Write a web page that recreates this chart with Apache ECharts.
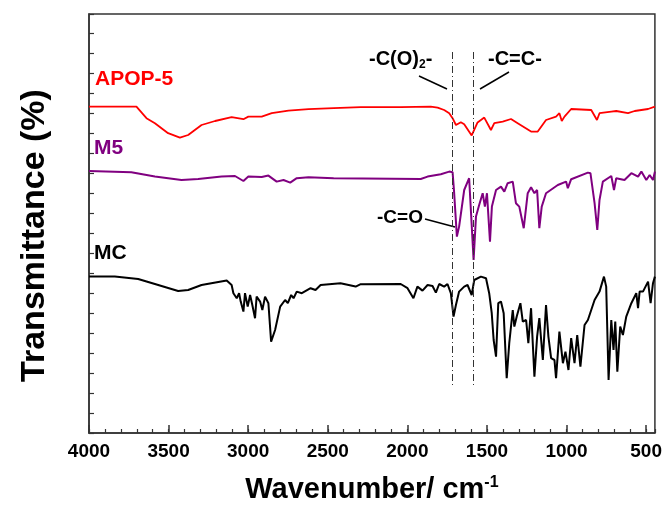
<!DOCTYPE html>
<html>
<head>
<meta charset="utf-8">
<title>FTIR</title>
<script src="https://cdn.jsdelivr.net/npm/echarts@6/dist/echarts.min.js"></script>
<style>
  html, body { margin: 0; padding: 0; background: #fff; }
  #main { width: 665px; height: 513px; }
</style>
</head>
<body>
<div id="main"></div>
<script>
// 红线 APOP-5
let apopWn = [4000, 3702, 3639, 3586, 3503, 3429, 3377, 3293, 3208, 3104, 3030, 2999, 2915, 2852, 2747, 2621, 2463, 2293, 2042, 1853, 1810, 1769, 1737, 1716, 1695, 1664, 1643, 1596, 1559, 1517, 1475, 1454, 1401, 1349, 1307, 1223, 1181, 1129, 1066, 1045, 1030, 1013, 971, 845, 809, 793, 719, 688, 614, 572, 488, 445];
let apopT = [16.32, 16.32, 15.74, 15.49, 14.99, 14.77, 14.9, 15.4, 15.6, 15.79, 15.69, 15.82, 15.82, 15.99, 16.12, 16.19, 16.24, 16.29, 16.29, 16.32, 16.27, 16.15, 15.99, 15.74, 15.4, 15.54, 15.44, 14.88, 15.53, 15.77, 15.15, 15.49, 15.57, 15.7, 15.49, 15.07, 15.07, 15.65, 15.82, 15.99, 15.6, 15.82, 16.2, 16.15, 15.65, 15.99, 16.07, 16.1, 15.99, 16.1, 16.2, 16.32];

// 紫线 M5
let m5Wn = [4000, 3734, 3586, 3419, 3314, 3167, 3083, 3030, 2999, 2915, 2873, 2821, 2778, 2736, 2695, 2621, 2463, 1916, 1873, 1790, 1737, 1716, 1706, 1689, 1675, 1643, 1612, 1601, 1584, 1569, 1549, 1527, 1513, 1500, 1481, 1469, 1443, 1412, 1391, 1370, 1338, 1318, 1297, 1269, 1244, 1223, 1202, 1185, 1171, 1156, 1129, 1055, 1003, 992, 971, 866, 850, 824, 807, 793, 772, 719, 702, 688, 636, 593, 551, 530, 499, 478, 457, 445];
let m5T = [13.1, 13.04, 12.82, 12.65, 12.7, 12.82, 12.85, 12.6, 12.82, 12.8, 12.87, 12.57, 12.65, 12.52, 12.74, 12.79, 12.74, 12.7, 12.82, 12.94, 13.07, 13.04, 11.99, 9.82, 10.32, 12.15, 12.74, 12.65, 8.65, 10.82, 11.4, 11.99, 11.32, 11.99, 9.57, 11.32, 12.15, 12.32, 12.07, 12.49, 12.57, 11.49, 11.32, 10.24, 11.99, 12.29, 11.99, 12.15, 10.24, 11.32, 11.99, 12.4, 12.57, 12.24, 12.69, 13.02, 12.99, 11.49, 10.15, 11.65, 12.57, 12.85, 12.15, 12.74, 12.65, 12.99, 12.82, 13.07, 12.65, 12.9, 12.65, 13.07];

// 黑线 MC
let mcWn = [4000, 3838, 3691, 3586, 3440, 3377, 3293, 3135, 3104, 3093, 3072, 3057, 3047, 3030, 3020, 3003, 2988, 2974, 2957, 2947, 2925, 2911, 2894, 2873, 2856, 2831, 2799, 2768, 2751, 2730, 2715, 2695, 2663, 2651, 2608, 2577, 2545, 2420, 2325, 2293, 2042, 1999, 1962, 1937, 1905, 1873, 1842, 1821, 1800, 1769, 1748, 1727, 1710, 1695, 1675, 1643, 1622, 1596, 1580, 1538, 1506, 1486, 1470, 1458, 1443, 1429, 1412, 1395, 1376, 1360, 1338, 1328, 1313, 1290, 1275, 1254, 1240, 1223, 1202, 1185, 1171, 1149, 1129, 1114, 1097, 1076, 1066, 1045, 1023, 1007, 988, 971, 950, 933, 913, 887, 866, 824, 793, 765, 751, 736, 719, 705, 694, 681, 663, 646, 625, 593, 562, 551, 541, 520, 488, 472, 457, 445];
let mcT = [7.82, 7.82, 7.7, 7.45, 7.1, 7.15, 7.4, 7.62, 7.4, 6.99, 6.74, 6.99, 6.57, 6.07, 6.99, 6.32, 6.9, 6.4, 5.74, 6.82, 6.57, 6.15, 6.82, 6.49, 4.57, 5.15, 6.32, 6.65, 6.49, 6.9, 6.74, 7.07, 6.99, 7.07, 7.24, 7.15, 7.4, 7.49, 7.32, 7.44, 7.45, 7.24, 6.74, 7.32, 7.12, 7.4, 7.35, 7.02, 7.45, 7.32, 7.45, 6.99, 5.82, 6.4, 7.07, 7.32, 7.4, 6.9, 7.65, 7.82, 7.74, 6.99, 5.99, 4.65, 3.82, 6.49, 6.57, 5.99, 2.74, 4.49, 6.15, 5.32, 5.82, 6.49, 5.57, 5.65, 4.49, 6.24, 2.82, 4.82, 5.74, 3.65, 6.4, 4.82, 3.74, 3.65, 2.74, 5.07, 3.49, 4.07, 3.15, 4.74, 3.49, 4.9, 3.32, 5.4, 5.65, 6.65, 7.07, 7.82, 7.32, 2.65, 5.65, 4.15, 5.57, 3.07, 5.32, 4.9, 5.82, 6.49, 6.99, 6.24, 7.07, 7.07, 7.57, 6.49, 7.49, 7.82];

// 点划线位置 -C(O)2- 和 -C=C-
let bandWn = [1718, 1588];
let bandTop = 19.05;
let bandBottom = 2.4;

let font = "'Liberation Sans', Arial, sans-serif";

// 横轴用负数,这样刻度从 4000 开始数
function toPairs(wn, t) {
  return wn.map((w, i) => [-w, t[i]]);
}

let myChart = echarts.init(document.getElementById("main"), null, { renderer: "canvas" });

let option = {
  animation: false,
  backgroundColor: "#fff",
  grid: {
    left: 89,
    right: 10,
    top: 14,
    bottom: 80,
    show: true,
    borderColor: "#333",
    borderWidth: 1.5
  },
  xAxis: [
    {
      type: "value",
      min: -4000,
      max: -445,
      interval: 500,
      name: "Wavenumber/ cm{sup|-1}",
      nameLocation: "middle",
      nameGap: 42,
      nameTextStyle: {
        fontFamily: font,
        fontWeight: "bold",
        fontSize: 29,
        color: "#000",
        rich: {
          sup: { fontFamily: font, fontWeight: "bold", fontSize: 16, verticalAlign: "top", padding: [0, 0, 14, 0] }
        }
      },
      axisLine: { show: true, lineStyle: { color: "#333", width: 1.5 } },
      axisTick: { show: true, inside: true, length: 8, lineStyle: { color: "#333", width: 1.5 } },
      axisLabel: {
        showMaxLabel: false,
        margin: 9,
        fontFamily: font,
        fontWeight: "bold",
        fontSize: 19,
        color: "#000",
        formatter: function(v) {
          return Math.abs(v);
        }
      },
      splitLine: { show: false }
    },
    {
      // 小刻度
      type: "value",
      position: "bottom",
      min: -4000,
      max: -445,
      interval: 100,
      axisLine: { show: false },
      axisTick: { show: true, inside: true, length: 4, lineStyle: { color: "#333", width: 1.2 } },
      axisLabel: { show: false },
      splitLine: { show: false }
    }
  ],
  yAxis: {
    type: "value",
    min: 0,
    max: 20.95,
    interval: 1,
    name: "Transmittance (%)",
    nameLocation: "middle",
    nameRotate: 90,
    nameGap: 37,
    nameTextStyle: {
      fontFamily: font,
      fontWeight: "bold",
      fontSize: 34,
      color: "#000",
      padding: [0, 24, 0, 0]
    },
    axisLine: { show: true, lineStyle: { color: "#333", width: 1.5 } },
    axisTick: { show: true, inside: true, length: 5, lineStyle: { color: "#333", width: 1.2 } },
    axisLabel: { show: false },
    splitLine: { show: false }
  },
  series: [
    {
      name: "APOP-5",
      type: "line",
      data: toPairs(apopWn, apopT),
      showSymbol: false,
      lineStyle: { color: "#ff0000", width: 1.8 }
    },
    {
      name: "M5",
      type: "line",
      data: toPairs(m5Wn, m5T),
      showSymbol: false,
      lineStyle: { color: "#800080", width: 2 }
    },
    {
      name: "MC",
      type: "line",
      data: toPairs(mcWn, mcT),
      showSymbol: false,
      lineStyle: { color: "#000", width: 2 },
      markLine: {
        symbol: "none",
        silent: true,
        label: { show: false },
        lineStyle: { color: "#333", width: 1, type: [7, 3, 1, 3] },
        data: bandWn.map(w => [{ coord: [-w, bandTop] }, { coord: [-w, bandBottom] }])
      }
    }
  ],
  graphic: [
    { type: "text", left: 95, top: 69, style: { text: "APOP-5", fill: "#ff0000", font: "bold 21px " + font } },
    { type: "text", left: 94, top: 138, style: { text: "M5", fill: "#800080", font: "bold 21px " + font } },
    { type: "text", left: 94, top: 243, style: { text: "MC", fill: "#000", font: "bold 21px " + font } },
    {
      type: "text",
      left: 369,
      top: 49,
      style: {
        text: "-C(O){sub|2}-",
        fill: "#000",
        font: "bold 20px " + font,
        rich: { sub: { font: "bold 12px " + font, padding: [12, 0, 0, 0] } }
      }
    },
    { type: "text", left: 488, top: 49, style: { text: "-C=C-", fill: "#000", font: "bold 20px " + font } },
    { type: "text", left: 377, top: 208, style: { text: "-C=O", fill: "#000", font: "bold 19px " + font } },
    { type: "line", shape: { x1: 419, y1: 76, x2: 447, y2: 89 }, style: { stroke: "#000", lineWidth: 1.5 } },
    { type: "line", shape: { x1: 509, y1: 72, x2: 480, y2: 89 }, style: { stroke: "#000", lineWidth: 1.5 } },
    { type: "line", shape: { x1: 425, y1: 219, x2: 455, y2: 227 }, style: { stroke: "#000", lineWidth: 1.5 } }
  ]
};
myChart.setOption(option);
</script>
</body>
</html>
